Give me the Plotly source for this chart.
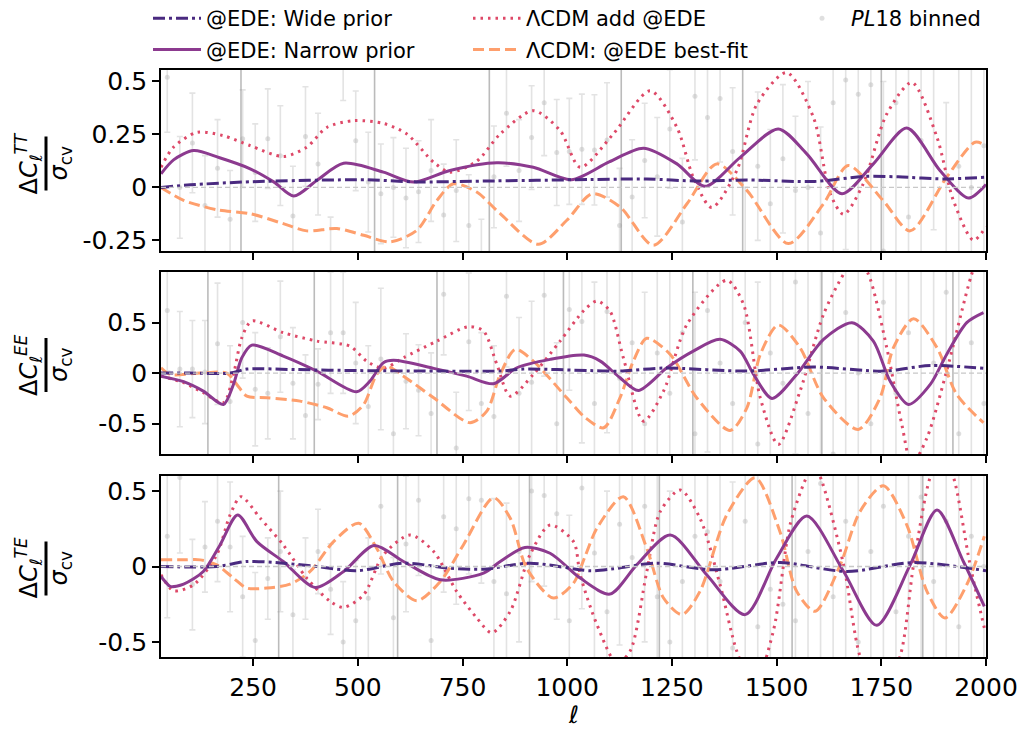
import plotly.graph_objects as go
from plotly.subplots import make_subplots

# ---------------- data ----------------
# TT panel
tt_wide_ell = [30, 100, 250, 520, 640, 800, 1055, 1190, 1310, 1430, 1590, 1710, 1790, 1900, 2000]
tt_wide = [0, 0.012, 0.027, 0.036, 0.026, 0.03, 0.037, 0.04, 0.03, 0.035, 0.028, 0.052, 0.05, 0.04, 0.048]

tt_narrow_ell = [30, 60, 108, 170, 243, 300, 347, 402, 466, 561, 633, 720, 832, 919, 1010, 1100, 1182,
                 1262, 1329, 1413, 1504, 1572, 1656, 1731, 1811, 1890, 1958, 2000]
tt_narrow = [0.064, 0.13, 0.174, 0.14, 0.088, 0.025, -0.041, 0.033, 0.114, 0.072, 0.025, 0.08, 0.116, 0.095,
             0.036, 0.12, 0.185, 0.111, 0.005, 0.142, 0.276, 0.158, -0.03, 0.111, 0.28, 0.08, -0.05, 0.014]

tt_add_ell = [30, 60, 116, 179, 243, 322, 378, 426, 490, 561, 617, 681, 720, 784, 840, 919, 983, 1031, 1110,
              1198, 1262, 1301, 1345, 1405, 1453, 1524, 1588, 1628, 1660, 1707, 1763, 1823, 1883, 1922, 1970, 2000]
tt_add = [0.095, 0.19, 0.26, 0.244, 0.197, 0.146, 0.19, 0.283, 0.315, 0.302, 0.252, 0.119, 0.072, 0.124, 0.252,
          0.362, 0.268, 0.095, 0.252, 0.456, 0.283, 0.048, -0.095, 0.08, 0.393, 0.542, 0.33, -0.03, -0.127, 0.017,
          0.346, 0.495, 0.236, -0.061, -0.249, -0.186]

tt_best_ell = [30, 84, 163, 243, 322, 378, 450, 514, 577, 641, 689, 728, 784, 840, 931, 999, 1060, 1126, 1206,
               1286, 1357, 1429, 1528, 1612, 1671, 1754, 1819, 1906, 1974, 2000]
tt_best = [0, -0.061, -0.105, -0.124, -0.171, -0.205, -0.194, -0.226, -0.257, -0.202, -0.061, 0.017, -0.022,
           -0.124, -0.268, -0.155, -0.03, -0.092, -0.273, -0.077, 0.111, -0.014, -0.265, -0.077, 0.103, -0.061,
           -0.205, 0.048, 0.213, 0.197]

# EE panel
ee_wide_ell = [30, 100, 195, 235, 350, 500, 690, 840, 895, 1055, 1126, 1230, 1429, 1588, 1755, 1867, 2000]
ee_wide = [0, 0, 0.0, 0.04, 0.035, 0.025, 0.02, 0.02, 0.04, 0.025, 0.02, 0.05, 0.02, 0.06, 0.02, 0.075, 0.045]

ee_narrow_ell = [30, 84, 131, 179, 203, 223, 247, 322, 402, 497, 529, 561, 585, 681, 760, 824, 880, 959, 1040,
                 1079, 1126, 1170, 1238, 1301, 1365, 1413, 1445, 1489, 1548, 1612, 1680, 1731, 1771, 1815, 1867,
                 1906, 1954, 1994]
ee_narrow = [-0.03, -0.085, -0.178, -0.31, -0.112, 0.152, 0.277, 0.168, 0.02, -0.184, -0.079, 0.103, 0.126,
             0.047, -0.03, -0.105, 0.053, 0.136, 0.178, 0.119, -0.046, -0.171, 0.053, 0.218, 0.334, 0.218,
             -0.013, -0.25, -0.013, 0.334, 0.499, 0.317, -0.079, -0.31, -0.112, 0.185, 0.499, 0.598]

ee_add_ell = [30, 84, 131, 179, 203, 223, 247, 322, 402, 481, 521, 561, 609, 689, 764, 800, 832, 864, 919, 983,
              1040, 1071, 1102, 1134, 1182, 1230, 1286, 1381, 1421, 1461, 1504, 1556, 1612, 1660, 1690, 1719,
              1763, 1799, 1823, 1859, 1906, 1966, 2000]
ee_add = [-0.03, -0.095, -0.194, -0.293, -0.013, 0.35, 0.515, 0.4, 0.317, 0.267, 0.119, 0.047, 0.152, 0.317,
          0.459, 0.416, 0.086, -0.228, -0.013, 0.317, 0.62, 0.713, 0.614, 0.152, -0.475, -0.178, 0.482, 0.918,
          0.68, -0.244, -0.706, -0.178, 0.581, 0.98, 1.15, 0.98, 0.251, -0.508, -0.9, -0.64, 0.02, 0.98, 1.35]

ee_best_ell = [30, 52, 124, 187, 211, 235, 283, 362, 426, 478, 514, 545, 569, 609, 681, 768, 808, 840, 876, 919,
               999, 1043, 1087, 1126, 1158, 1190, 1246, 1309, 1389, 1429, 1461, 1504, 1556, 1612, 1695, 1747,
               1779, 1827, 1883, 1930, 1994]
ee_best = [0.053, -0.013, 0.0, 0.0, -0.112, -0.228, -0.244, -0.277, -0.343, -0.426, -0.31, -0.013, 0.069,
           -0.03, -0.244, -0.491, -0.376, -0.013, 0.235, 0.119, -0.244, -0.44, -0.541, -0.244, 0.119, 0.344,
           0.185, -0.244, -0.567, -0.343, 0.185, 0.475, 0.251, -0.244, -0.557, -0.244, 0.251, 0.538, 0.251,
           -0.211, -0.491]

# TE panel
te_wide_ell = [30, 163, 235, 322, 402, 497, 609, 720, 800, 911, 1055, 1110, 1214, 1349, 1508, 1668, 1827, 2000]
te_wide = [0, 0, 0.033, 0.022, 0, -0.028, 0.022, -0.011, -0.018, 0.022, -0.028, -0.015, 0.022, -0.022, 0.026,
           -0.033, 0.026, -0.028]

te_narrow_ell = [30, 40, 52, 84, 131, 171, 213, 259, 322, 398, 466, 539, 609, 697, 800, 840, 899, 959, 1031,
                 1102, 1166, 1246, 1333, 1425, 1500, 1572, 1660, 1739, 1819, 1883, 1946, 1996]
te_narrow = [-0.066, -0.1, -0.132, -0.117, -0.033, 0.143, 0.342, 0.165, 0.033, -0.139, -0.033, 0.139, 0.033,
             -0.088, -0.044, 0.033, 0.126, 0.088, -0.077, -0.183, 0.011, 0.209, -0.055, -0.319, 0.055, 0.335,
             -0.033, -0.39, 0.011, 0.375, 0.033, -0.264]

te_add_ell = [30, 60, 108, 163, 195, 221, 267, 322, 378, 434, 466, 514, 561, 625, 681, 736, 784, 820, 864, 911,
              959, 1015, 1031, 1071, 1118, 1150, 1190, 1222, 1270, 1317, 1365, 1405, 1445, 1492, 1532, 1572, 1588,
              1604, 1660, 1699, 1745, 1795, 1827, 1867, 1895, 1922, 1962, 1996]
te_add = [-0.055, -0.161, -0.121, 0.077, 0.342, 0.463, 0.32, 0.143, -0.077, -0.231, -0.271, -0.187, 0.077,
          0.209, 0.099, -0.165, -0.341, -0.44, -0.297, 0.077, 0.275, 0.165, -0.055, -0.385, -0.64, -0.562,
          -0.033, 0.364, 0.507, 0.32, -0.121, -0.562, -0.8, -0.43, 0.275, 0.595, 0.66, 0.595, 0.011, -0.595,
          -0.88, -0.595, 0.011, 0.595, 0.75, 0.595, 0.011, -0.407]

te_best_ell = [30, 84, 124, 163, 203, 235, 283, 338, 386, 442, 502, 545, 585, 641, 697, 752, 824, 864, 903, 967,
               1015, 1043, 1071, 1134, 1190, 1230, 1274, 1317, 1381, 1449, 1508, 1548, 1592, 1652, 1699, 1755,
               1811, 1859, 1902, 1954, 1996]
te_best = [0.044, 0.044, 0.044, 0.011, -0.077, -0.143, -0.143, -0.117, -0.033, 0.165, 0.287, 0.121, -0.099,
           -0.227, -0.099, 0.143, 0.456, 0.32, -0.011, -0.209, -0.11, 0.07, 0.254, 0.463, 0.121, -0.209, -0.319,
           -0.165, 0.342, 0.588, 0.231, -0.165, -0.297, 0.011, 0.364, 0.535, 0.275, -0.165, -0.341, -0.121, 0.2]

# Planck 2018 binned residuals (bins of width 30)
bin_ell = [45, 75, 105, 135, 165, 195, 225, 255, 285, 315, 345, 375, 405, 435, 465, 495, 525, 555, 585, 615,
           645, 675, 705, 735, 765, 795, 825, 855, 885, 915, 945, 975, 1005, 1035, 1065, 1095, 1125, 1155, 1185,
           1215, 1245, 1275, 1305, 1335, 1365, 1395, 1425, 1455, 1485, 1515, 1545, 1575, 1605, 1635, 1665, 1695,
           1725, 1755, 1785, 1815, 1845, 1875, 1905, 1935, 1965, 1995]
tt_bin = [0.52, 0.0, 0.21, -0.085, 0.09, -0.15, 0.23, 0.07, 0.23, 0.15, -0.135, 0.24, 0.11, -0.38, 0.65, 0.22,
          0.025, -0.03, 0.0, -0.05, -0.02, 0.08, -0.13, -0.015, -0.18, -0.39, 0.05, 0.35, 0.08, 0.235, 0.4, 0.165,
          0.17, 0.18, 0.177, 0.224, -0.18, -0.045, 0.127, 0.05, 0.276, -0.163, 0.43, 0.33, 0.42, 0.17, -0.35, 0.1,
          -0.077, 0.135, -0.014, 0.0, -0.215, 0.4, 0.507, 0.44, 0.484, -0.3, 0.4, -0.14, 0.221, 0.6, -0.4, 0.1,
          0.0, 0.197]
tt_bin_err = [0.26, 0.24, 0.235, 0.235, 0.23, 0.23, 0.23, 0.23, 0.235, 0.235, 0.235, 0.235, 0.24, 0.24, 0.24,
              0.235, 0.235, 0.235, 0.235, 0.235, 0.24, 0.24, 0.24, 0.24, 0.24, 0.24, 0.24, 0.25, 0.24, 0.245,
              0.25, 0.25, 0.25, 0.26, 0.26, 0.27, 0.27, 0.27, 0.27, 0.28, 0.28, 0.3, 0.3, 0.3, 0.3, 0.3, 0.35,
              0.35, 0.35, 0.35, 0.35, 0.5, 0.5, 0.8, 0.8, 0.8, 0.8, 0.8, 0.8, 0.8, 0.8, 0.8, 0.8, 0.8, 0.8, 0.8]
ee_bin = [0.62, 0.04, 0.04, 0.01, 0.29, -0.28, 0.5, -0.16, -0.2, 0.36, -0.1, -0.42, -0.11, 0.4, 0.4, 0.1,
          -0.33, 0.14, -0.6, -0.08, -0.17, -0.4, 0.78, -0.74, 0.31, -0.3, -0.43, 0.76, -0.2, -0.09, 0.77, -0.5,
          0.63, 0.51, -0.3, 0.61, -0.05, 0.3, -0.5, 0.2, -0.2, 0.4, -0.6, 0.62, 0.1, -0.3, 0.5, -0.7, 0.2, -0.1,
          0.9, -0.4, 0.3, -0.8, 0.6, 0.0, -0.5, 0.7, -0.2, 0.4, -0.9, 0.1, 0.8, -0.6, 0.3, -0.3]
ee_bin_err = [0.6, 0.57, 0.48, 0.51, 0.6, 0.55, 0.55, 0.56, 0.45, 0.55, 0.55, 0.6, 0.35, 0.6, 0.6, 0.6, 0.6,
              0.7, 0.6, 0.47, 0.45, 0.6, 0.6, 0.55, 0.68, 0.7, 0.7, 0.7, 0.75, 0.8, 0.8, 0.8, 0.8, 1.2, 1.2, 1.2,
              1.2, 1.3, 1.3, 1.3, 1.3, 1.4, 1.4, 1.4, 1.5, 1.5, 1.5, 1.6, 1.6, 1.6, 1.7, 1.7, 1.7, 1.8, 1.8, 1.8,
              1.9, 1.9, 1.9, 2.0, 2.0, 2.0, 2.0, 2.0, 2.0, 2.0]
te_bin = [0.2, 0.59, -0.12, 0.13, 0.3, 0.13, -0.2, -0.49, -0.08, 0.1, -0.32, -0.08, 0.1, -0.15, -0.5, -0.36,
          -0.21, 0.4, -0.34, 0.15, 0.44, -0.49, 0.33, 0.25, 0.45, 0.44, -0.1, -0.18, 0.1, 0.5, 0.47, 0.35, -0.36,
          0.52, 0.09, -0.3, 0.28, 0.06, 0.4, -0.2, -0.5, -0.1, 0.2, 0.23, -0.1, -0.54, 0.3, -0.4, -0.15, -0.25,
          -0.36, 0.1, 0.55, -0.2, 0.3, -0.5, 0.1, 0.4, -0.3, 0.2, 0.46, -0.1, 0.3, -0.4, 0.2, 0.0]
te_bin_err = [0.54, 0.5, 0.3, 0.3, 0.4, 0.43, 0.4, 0.45, 0.27, 0.4, 0.3, 0.27, 0.28, 0.3, 0.4, 0.4, 0.4, 0.45,
              0.4, 0.45, 0.5, 0.5, 0.5, 0.5, 0.5, 0.55, 0.55, 0.6, 0.6, 0.6, 0.6, 0.7, 0.7, 0.8, 0.8, 0.8, 0.8,
              0.9, 0.9, 0.9, 1.0, 1.0, 1.0, 1.0, 1.1, 1.1, 1.1, 1.2, 1.2, 1.2, 1.2, 1.3, 1.3, 1.3, 1.3, 1.4, 1.4,
              1.4, 1.5, 1.5, 1.5, 1.5, 1.6, 1.6, 1.6, 1.6]
# bins whose error bars span the whole panel (drawn darker)
tt_wide_bin_ell = [221, 540, 814, 1129, 1419, 1750]
ee_wide_bin_ell = [142, 396, 689, 991, 1300, 1608, 1921]
te_wide_bin_ell = [311, 595, 910, 1220, 1537, 1849]

panel_ticks = [[-0.25, 0, 0.25, 0.5], [-0.5, 0, 0.5], [-0.5, 0, 0.5]]
panel_ticktext = [["-0.25", "0", "0.25", "0.5"], ["-0.5", "0", "0.5"], ["-0.5", "0", "0.5"]]
panel_ranges = [[-0.30, 0.554], [-0.80, 1.0], [-0.60, 0.60]]
panel_labels = ["TT", "EE", "TE"]
x_ticks = [250, 500, 750, 1000, 1250, 1500, 1750, 2000]

# ---------------- styling ----------------
C_WIDE = "#4a2a80"
C_NARROW = "#8c3a8f"
C_ADD = "#de4968"
C_BEST = "#fe9f6d"
FONT = "DejaVu Sans"

fig = make_subplots(rows=3, cols=1, shared_xaxes=True)

panels = [
    (tt_wide_ell, tt_wide, tt_narrow_ell, tt_narrow, tt_add_ell, tt_add, tt_best_ell, tt_best,
     tt_bin, tt_bin_err, tt_wide_bin_ell),
    (ee_wide_ell, ee_wide, ee_narrow_ell, ee_narrow, ee_add_ell, ee_add, ee_best_ell, ee_best,
     ee_bin, ee_bin_err, ee_wide_bin_ell),
    (te_wide_ell, te_wide, te_narrow_ell, te_narrow, te_add_ell, te_add, te_best_ell, te_best,
     te_bin, te_bin_err, te_wide_bin_ell),
]

for i, (wx, wy, nx, ny, ax_, ay, bx, by, dy, de, fx) in enumerate(panels):
    row = i + 1
    first = i == 0
    # binned data
    fig.add_trace(go.Scatter(
        x=bin_ell, y=dy, mode="markers", name="<i>PL</i>18 binned",
        marker=dict(size=5, color="rgba(185,185,185,0.45)"),
        error_y=dict(type="data", array=de, color="rgba(200,200,200,0.5)", thickness=1.6, width=3),
        showlegend=first, legend="legend3", legendgroup="pl18"), row=row, col=1)
    fig.add_trace(go.Scatter(
        x=fx, y=[0] * len(fx), mode="markers", marker=dict(size=1, opacity=0),
        error_y=dict(type="data", array=[10] * len(fx), color="rgba(150,150,150,0.65)", thickness=1.6, width=0),
        showlegend=False, hoverinfo="skip"), row=row, col=1)
    fig.add_hline(y=0, line=dict(color="#c8c8c8", width=1.4, dash="5px,3px"), row=row, col=1)
    fig.add_trace(go.Scatter(
        x=ax_, y=ay, mode="lines", name="ΛCDM add @EDE",
        line=dict(color=C_ADD, width=3, dash="2.5px,5px", shape="spline", smoothing=0.8),
        showlegend=first, legend="legend2", legendgroup="add", legendrank=1), row=row, col=1)
    fig.add_trace(go.Scatter(
        x=bx, y=by, mode="lines", name="ΛCDM: @EDE best-fit",
        line=dict(color=C_BEST, width=3, dash="11px,5px", shape="spline", smoothing=0.8),
        showlegend=first, legend="legend2", legendgroup="best", legendrank=2), row=row, col=1)
    fig.add_trace(go.Scatter(
        x=nx, y=ny, mode="lines", name="@EDE: Narrow prior",
        line=dict(color=C_NARROW, width=3, shape="spline", smoothing=0.8),
        showlegend=first, legend="legend", legendgroup="narrow", legendrank=2), row=row, col=1)
    fig.add_trace(go.Scatter(
        x=wx, y=wy, mode="lines", name="@EDE: Wide prior",
        line=dict(color=C_WIDE, width=3, dash="12px,4px,3px,4px", shape="spline", smoothing=0.8),
        showlegend=first, legend="legend", legendgroup="wide", legendrank=1), row=row, col=1)

# geometry (pixels): plot area x 161..986, panels at y 70-251, 272-454, 476-657
W, H = 1021, 730
ML, MR, MT, MB = 161, 35, 70, 73
PH = H - MT - MB
domains = [(70, 251), (272, 454), (476, 657)]

axis_common = dict(showline=True, linecolor="black", linewidth=1.8, mirror=True,
                   ticks="outside", ticklen=7, tickwidth=1.5, tickcolor="black",
                   showgrid=False, zeroline=False, automargin=False,
                   tickfont=dict(family=FONT, size=25, color="black"))

for i in range(3):
    top, bot = domains[i]
    d = [(H - MB - bot) / PH, (H - MB - top) / PH]
    ysuffix = "" if i == 0 else str(i + 1)
    fig.layout["yaxis" + ysuffix].update(
        domain=d, range=panel_ranges[i], tickvals=panel_ticks[i], ticktext=panel_ticktext[i], **axis_common)
    fig.layout["xaxis" + ysuffix].update(
        range=[30, 2000], tickvals=x_ticks, ticktext=[str(v) for v in x_ticks],
        showticklabels=(i == 2), **axis_common)

# y-axis labels as fractions
ann = []
shapes = []
yshifts = [-3, -2, -2]
for i in range(3):
    yref = ("y" if i == 0 else "y" + str(i + 1)) + " domain"
    lab = panel_labels[i]
    ann.append(dict(text="Δ<i>C</i><sub><i>ℓ</i></sub><sup><i>" + lab + "</i></sup>",
                    xref="paper", yref=yref, x=0, y=0.5, xanchor="center", yanchor="middle",
                    xshift=-133, yshift=yshifts[i], textangle=-90, showarrow=False,
                    font=dict(family=FONT, size=24, color="black")))
    ann.append(dict(text="<i>σ</i><sub>cv</sub>",
                    xref="paper", yref=yref, x=0, y=0.5, xanchor="center", yanchor="middle",
                    xshift=-101, yshift=yshifts[i], textangle=-90, showarrow=False,
                    font=dict(family=FONT, size=24, color="black")))
    shapes.append(dict(type="line", xref="paper", yref=yref, xsizemode="pixel", ysizemode="pixel",
                       xanchor=0, yanchor=0.5, x0=-115, x1=-115, y0=-27 + yshifts[i], y1=27 + yshifts[i],
                       line=dict(color="black", width=3)))
ann.append(dict(text="<i>ℓ</i>", xref="paper", yref="paper", x=0.5, y=-(715 - (H - MB)) / PH,
                xanchor="center", yanchor="middle", showarrow=False,
                font=dict(family=FONT, size=24, color="black")))

legend_common = dict(orientation="v", bgcolor="rgba(0,0,0,0)", borderwidth=0, itemwidth=48,
                     font=dict(family=FONT, size=21, color="black"), tracegroupgap=1,
                     yanchor="top", xanchor="left", y=1 + (MT + 2) / PH, itemclick=False)

fig.update_layout(
    width=W, height=H,
    margin=dict(l=ML, r=MR, t=MT, b=MB, autoexpand=False),
    plot_bgcolor="white", paper_bgcolor="white",
    font=dict(family=FONT, size=21, color="black"),
    annotations=ann, shapes=list(fig.layout.shapes) + shapes,
    legend=dict(x=(148 - ML) / (W - ML - MR), **legend_common),
    legend2=dict(x=(468 - ML) / (W - ML - MR), **legend_common),
    legend3=dict(x=(793 - ML) / (W - ML - MR), **legend_common),
)

fig.write_html("out.html", config={"displayModeBar": False},
               post_script="document.body.style.margin='0';document.body.style.padding='0';")
